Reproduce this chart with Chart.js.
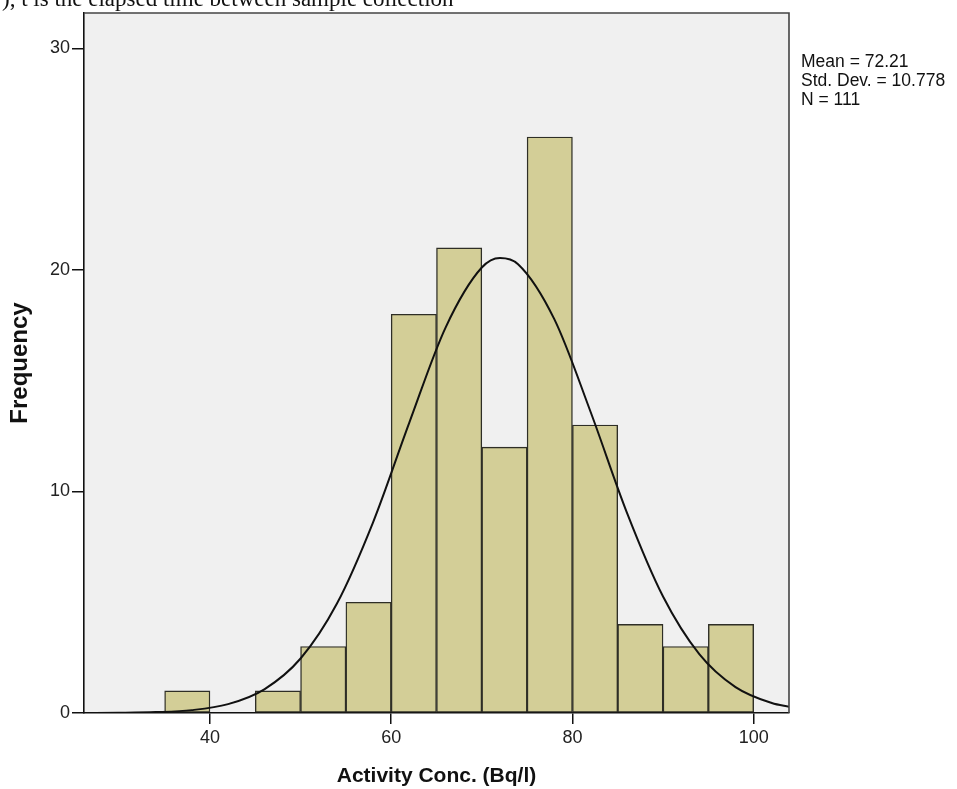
<!DOCTYPE html>
<html>
<head>
<meta charset="utf-8">
<script src="https://cdn.jsdelivr.net/npm/chart.js@4.4.1/dist/chart.umd.min.js"></script>
<style>
  html, body { margin: 0; padding: 0; background: #ffffff; overflow: hidden; }
  #wrap { position: relative; width: 957px; height: 789px; }
  #chartBox { position: absolute; left: 0; top: 0; width: 957px; height: 789px; }
  #topText { position: absolute; left: 2px; top: -13px; font-family: "Liberation Serif", "Times New Roman", serif;
             font-size: 23px; line-height: 23px; color: #111; white-space: nowrap; }
  #stats { position: absolute; left: 801px; top: 52px; font-family: "Liberation Sans", Arial, sans-serif;
           font-size: 17.5px; line-height: 19px; color: #111; white-space: nowrap; }
</style>
</head>
<body>
<div id="wrap">
  <div id="chartBox"><canvas id="c"></canvas></div>
  <div id="topText">), t is the elapsed time between sample collection</div>
  <div id="stats"></div>
</div>
<script>
// ---- data ----
const binStarts = [35, 45, 50, 55, 60, 65, 70, 75, 80, 85, 90, 95];
const binCounts = [1, 1, 3, 5, 18, 21, 12, 26, 13, 4, 3, 4];
const binWidth = 5;
const curveX = [26, 30, 34, 38, 42, 46, 50, 54, 58, 62, 66, 70, 72, 74, 78, 82, 86, 90, 94, 98, 102, 104];
const curveY = [0.00, 0.01, 0.04, 0.13, 0.40, 1.07, 2.46, 4.93, 8.61, 13.11, 17.40, 20.11, 20.54, 20.26, 17.78, 13.60, 9.06, 5.26, 2.66, 1.17, 0.45, 0.27];
const xTicks = [40, 60, 80, 100];
const yTicks = [0, 10, 20, 30];
const statsLines = ["Mean = 72.21", "Std. Dev. = 10.778", "N = 111"];
const xTitle = "Activity Conc. (Bq/l)";
const yTitle = "Frequency";

document.getElementById('stats').innerHTML = statsLines.join('<br>');

const barData = binStarts.map((s, i) => ({ x: s + binWidth / 2, y: binCounts[i] }));
const curveData = curveX.map((x, i) => ({ x: x, y: curveY[i] }));

const plotBg = {
  id: 'plotBg',
  beforeDraw(chart) {
    const { ctx, chartArea: a } = chart;
    ctx.save();
    ctx.fillStyle = '#f0f0f0';
    ctx.fillRect(a.left, a.top, a.right - a.left, a.bottom - a.top);
    ctx.restore();
  },
  afterDatasetsDraw(chart) {
    const { ctx, chartArea: a } = chart;
    ctx.save();
    ctx.strokeStyle = '#444444';
    ctx.lineWidth = 1.6;
    ctx.beginPath();
    ctx.moveTo(a.left, a.top);
    ctx.lineTo(a.right, a.top);
    ctx.lineTo(a.right, a.bottom);
    ctx.stroke();
    ctx.restore();
  }
};

const tickFont = { family: '"Liberation Sans", Arial, sans-serif', size: 18 };

new Chart(document.getElementById('c'), {
  data: {
    datasets: [
      {
        type: 'line',
        data: curveData,
        borderColor: '#111111',
        borderWidth: 2,
        pointRadius: 0,
        cubicInterpolationMode: 'monotone',
        fill: false,
        order: 0
      },
      {
        type: 'bar',
        data: barData,
        backgroundColor: '#d3ce97',
        borderColor: '#2e2e26',
        borderWidth: 1.4,
        borderSkipped: false,
        barPercentage: 1.0,
        categoryPercentage: 1.0,
        order: 1
      }
    ]
  },
  options: {
    responsive: true,
    maintainAspectRatio: false,
    animation: false,
    layout: { padding: { left: 0, right: 168, top: 13, bottom: 0 } },
    plugins: { legend: { display: false }, tooltip: { enabled: false }, title: { display: false } },
    scales: {
      x: {
        type: 'linear',
        position: 'bottom',
        offset: false,
        min: 26.1,
        max: 103.9,
        afterBuildTicks(axis) { axis.ticks = xTicks.map(v => ({ value: v })); },
        afterFit(axis) { axis.height = 76; },
        grid: { offset: false, drawOnChartArea: false, drawTicks: true, tickLength: 11, color: '#111', lineWidth: 1.5 },
        border: { display: true, color: '#111', width: 1.6 },
        ticks: { font: tickFont, color: '#222', padding: 3, maxRotation: 0, autoSkip: false },
        title: { display: true, text: xTitle, color: '#111',
                 font: { family: '"Liberation Sans", Arial, sans-serif', size: 21, weight: 'bold' },
                 padding: { top: 0, bottom: 0 } }
      },
      y: {
        type: 'linear',
        position: 'left',
        min: 0,
        max: 31.6,
        afterBuildTicks(axis) { axis.ticks = yTicks.map(v => ({ value: v })); },
        afterFit(axis) { axis.width = 84; },
        grid: { drawOnChartArea: false, drawTicks: true, tickLength: 12, color: '#111', lineWidth: 1.5 },
        border: { display: true, color: '#111', width: 1.6 },
        ticks: { font: tickFont, color: '#222', padding: 2, autoSkip: false },
        title: { display: true, text: yTitle, color: '#111',
                 font: { family: '"Liberation Sans", Arial, sans-serif', size: 24, weight: 'bold' },
                 padding: { top: 6, bottom: 0 } }
      }
    }
  },
  plugins: [plotBg]
});
</script>
</body>
</html>
